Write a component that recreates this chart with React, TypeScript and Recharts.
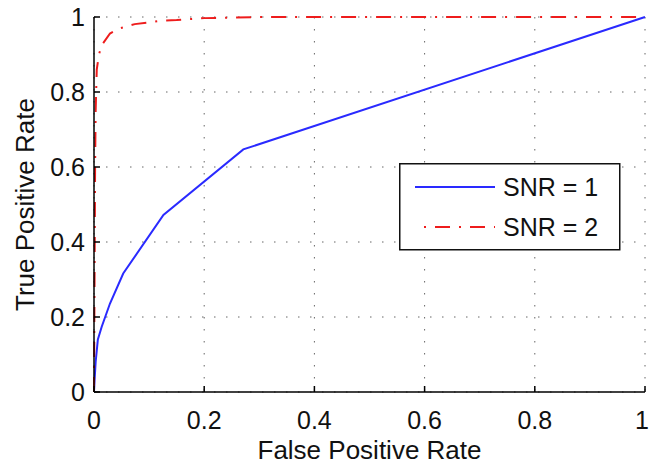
import { LineChart, Line, XAxis, YAxis, CartesianGrid, Legend, Label } from "recharts";

// ROC curves
const snr1Fpr = [0, 0.001, 0.003, 0.007, 0.014, 0.029, 0.053, 0.126, 0.271, 1];
const snr1Tpr = [0, 0.03, 0.08, 0.14, 0.174, 0.236, 0.316, 0.472, 0.647, 1];

const snr2Fpr = [0, 0.001, 0.002, 0.003, 0.005, 0.009, 0.014, 0.029, 0.047, 0.074, 0.096, 0.12, 0.15, 0.2, 0.3, 1];
const snr2Tpr = [0, 0.3, 0.6, 0.75, 0.86, 0.9, 0.925, 0.956, 0.97, 0.981, 0.985, 0.99, 0.992, 0.997, 1, 1];

const ticks = [0, 0.2, 0.4, 0.6, 0.8, 1];

const seriesNames = ["SNR = 1", "SNR = 2"];

const snr1 = snr1Fpr.map((fpr, i) => ({ fpr, tpr: snr1Tpr[i] }));
const snr2 = snr2Fpr.map((fpr, i) => ({ fpr, tpr: snr2Tpr[i] }));

const FONT = '"Liberation Sans", Arial, Helvetica, sans-serif';
const BLUE = "#2a2aff";
const RED = "#ee1c1c";
const RED_DASH = "15 9 2 9";
const TICK_LEN = 6;

type Side = "bottom" | "top" | "left" | "right";

interface TickProps {
  x?: number;
  y?: number;
  payload?: { value: number };
}

const makeTick = (side: Side) =>
  function Tick({ x = 0, y = 0, payload }: TickProps) {
    const v = payload ? payload.value : 0;
    if (side === "bottom") {
      // last label sits on the right edge, nudge it in so it isn't clipped
      const dx = v === 1 ? -3 : 0;
      return (
        <g>
          <line x1={x} y1={y} x2={x} y2={y - TICK_LEN} stroke="#000" strokeWidth={1.5} />
          <text x={x + dx} y={y + 37} textAnchor="middle" fontSize={25} fontFamily={FONT} fill="#111">
            {String(v)}
          </text>
        </g>
      );
    }
    if (side === "top") {
      return <line x1={x} y1={y} x2={x} y2={y + TICK_LEN} stroke="#000" strokeWidth={1.5} />;
    }
    if (side === "left") {
      return (
        <g>
          <line x1={x} y1={y} x2={x + TICK_LEN} y2={y} stroke="#000" strokeWidth={1.5} />
          <text x={x - 9} y={y} dy="0.36em" textAnchor="end" fontSize={25} fontFamily={FONT} fill="#111">
            {String(v)}
          </text>
        </g>
      );
    }
    return <line x1={x} y1={y} x2={x - TICK_LEN} y2={y} stroke="#000" strokeWidth={1.5} />;
  };

function LegendBox() {
  return (
    <svg width={222} height={88} style={{ display: "block" }}>
      <rect x={0.75} y={0.75} width={220} height={86} fill="#fff" stroke="#111" strokeWidth={1.5} />
      <line x1={16} y1={24} x2={96} y2={24} stroke={BLUE} strokeWidth={2} />
      <text x={104} y={24} dy="0.36em" fontSize={25} fontFamily={FONT} fill="#111">
        {seriesNames[0]}
      </text>
      <line x1={16} y1={64} x2={96} y2={64} stroke={RED} strokeWidth={2} strokeDasharray={RED_DASH} strokeDashoffset={-20} />
      <text x={104} y={64} dy="0.36em" fontSize={25} fontFamily={FONT} fill="#111">
        {seriesNames[1]}
      </text>
    </svg>
  );
}

export default function App() {
  return (
    <div style={{ position: "absolute", left: 0, top: 0, background: "#fff" }}>
      <LineChart width={650} height={474} margin={{ top: 17, right: 5, bottom: 0, left: 0 }}>
        <CartesianGrid stroke="#666" strokeDasharray="1.5 10.5" />
        <XAxis
          dataKey="fpr"
          type="number"
          domain={[0, 1]}
          ticks={ticks}
          interval={0}
          height={82}
          tickSize={0}
          tickMargin={0}
          tickLine={false}
          axisLine={{ stroke: "#000", strokeWidth: 1.5 }}
          tick={makeTick("bottom")}
        >
          <Label
            content={({ viewBox }: any) => (
              <text
                x={viewBox.x + viewBox.width / 2}
                y={viewBox.y + 67}
                textAnchor="middle"
                fontSize={26}
                fontFamily={FONT}
                fill="#111"
              >
                False Positive Rate
              </text>
            )}
          />
        </XAxis>
        <XAxis
          xAxisId="top"
          orientation="top"
          dataKey="fpr"
          type="number"
          domain={[0, 1]}
          ticks={ticks}
          interval={0}
          height={0}
          tickSize={0}
          tickMargin={0}
          tickLine={false}
          axisLine={{ stroke: "#000", strokeWidth: 1.5 }}
          tick={makeTick("top")}
        />
        <YAxis
          type="number"
          domain={[0, 1]}
          ticks={ticks}
          interval={0}
          width={94}
          tickSize={0}
          tickMargin={0}
          tickLine={false}
          axisLine={{ stroke: "#000", strokeWidth: 1.5 }}
          tick={makeTick("left")}
        >
          <Label
            content={({ viewBox }: any) => {
              const cx = 34;
              const cy = viewBox.y + viewBox.height / 2;
              return (
                <text
                  x={cx}
                  y={cy}
                  transform={`rotate(-90 ${cx} ${cy})`}
                  textAnchor="middle"
                  fontSize={26}
                  fontFamily={FONT}
                  fill="#111"
                >
                  True Positive Rate
                </text>
              );
            }}
          />
        </YAxis>
        <YAxis
          yAxisId="right"
          orientation="right"
          type="number"
          domain={[0, 1]}
          ticks={ticks}
          interval={0}
          width={0}
          tickSize={0}
          tickMargin={0}
          tickLine={false}
          axisLine={{ stroke: "#000", strokeWidth: 1.5 }}
          tick={makeTick("right")}
        />
        <Line
          data={snr1}
          dataKey="tpr"
          name={seriesNames[0]}
          type="linear"
          stroke={BLUE}
          strokeWidth={2}
          dot={false}
          isAnimationActive={false}
        />
        <Line
          data={snr2}
          dataKey="tpr"
          name={seriesNames[1]}
          type="linear"
          stroke={RED}
          strokeWidth={2}
          strokeDasharray={RED_DASH}
          dot={false}
          isAnimationActive={false}
        />
        <Legend
          layout="horizontal"
          verticalAlign="middle"
          align="center"
          content={() => <LegendBox />}
          wrapperStyle={{ position: "absolute", left: 399, top: 163, width: 222, height: 88 }}
        />
      </LineChart>
    </div>
  );
}
